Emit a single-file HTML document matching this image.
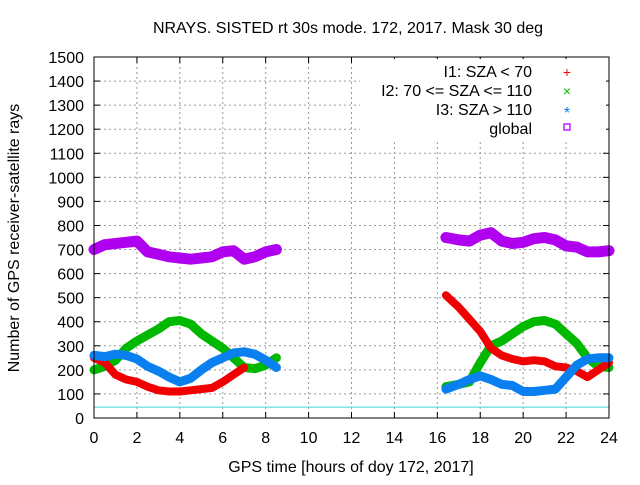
<!DOCTYPE html>
<html><head><meta charset="utf-8"><style>
body{margin:0;background:#fff}
svg{font-family:"Liberation Sans",sans-serif;font-size:16px}
</style></head><body>
<svg id="c" width="640" height="480" xmlns="http://www.w3.org/2000/svg">
<text x="348" y="33" text-anchor="middle">NRAYS. SISTED rt 30s mode. 172, 2017. Mask 30 deg</text>
<text x="351" y="472" text-anchor="middle">GPS time [hours of doy 172, 2017]</text>
<text transform="translate(19,238) rotate(-90)" text-anchor="middle">Number of GPS receiver-satellite rays</text>
<g id="grid"></g><g id="ticks"></g><g id="series"></g>
<rect x="94" y="57" width="515" height="361" fill="none" stroke="#000"/>
<g id="legend">
<rect x="360" y="59" width="246" height="82" fill="#fff"/>
<text x="532" y="77" text-anchor="end">I1: SZA &lt; 70</text>
<text x="567" y="77" fill="#f00" text-anchor="middle" font-size="14">+</text>
<text x="532" y="96" text-anchor="end">I2: 70 &lt;= SZA &lt;= 110</text>
<text x="567" y="96" fill="#0b0" text-anchor="middle" font-size="14">×</text>
<text x="532" y="115" text-anchor="end">I3: SZA &gt; 110</text>
<text x="567" y="118" fill="#0a7ff0" text-anchor="middle" font-size="16">*</text>
<text x="532" y="134" text-anchor="end">global</text>
<rect x="564" y="124" width="6" height="6" fill="none" stroke="#b0f" stroke-width="1.3"/>
</g>
</svg>
<script>
const hours1=[0,0.5,1,1.5,2,2.5,3,3.5,4,4.5,5,5.5,6,6.5,7,7.5,8,8.5];
const hours2=[16.4,17,17.5,18,18.5,19,19.5,20,20.5,21,21.5,22,22.5,23,23.5,24];
const global1=[700,720,725,730,735,690,680,670,665,660,665,670,690,695,660,670,690,700];
const global2=[750,740,735,760,770,735,725,730,745,750,740,715,710,690,690,695];
const i1a=[250,230,180,160,150,130,115,110,110,115,120,125,150,180,210];
const i1b=[510,460,410,360,290,260,245,235,240,235,215,210,195,170,200,230];
const i2a=[200,215,240,290,320,345,370,400,405,390,350,320,290,250,210,205,220,250];
const i2b=[130,140,150,230,300,320,350,380,400,405,390,350,310,250,215,210];
const i3a=[260,255,265,260,245,215,195,170,150,165,200,230,250,270,275,265,240,210];
const i3b=[120,140,160,175,160,140,135,110,110,115,120,170,220,245,250,250];
const xTicks=[0,2,4,6,8,10,12,14,16,18,20,22,24];
const yTicks=[0,100,200,300,400,500,600,700,800,900,1000,1100,1200,1300,1400,1500];
const baseline=45;
const X=h=>94+h*515/24, Y=v=>418-v*361/1500;
const NS="http://www.w3.org/2000/svg";
function mk(p,t,a){const e=document.createElementNS(NS,t);for(const k in a)e.setAttribute(k,a[k]);p.appendChild(e);return e;}
const grid=document.getElementById('grid'),ticks=document.getElementById('ticks'),ser=document.getElementById('series');
xTicks.forEach(t=>{
 if(t>0&&t<24){const l=mk(grid,'line',{x1:X(t),x2:X(t),y1:57,y2:418,stroke:'#999','stroke-dasharray':'2,3'});
 
 }
 mk(ticks,'line',{x1:X(t),x2:X(t),y1:418,y2:412,stroke:'#000'});
 mk(ticks,'line',{x1:X(t),x2:X(t),y1:57,y2:63,stroke:'#000'});
 const tx=mk(ticks,'text',{x:X(t),y:443,'text-anchor':'middle'});tx.textContent=t;
 
 
});
yTicks.forEach(t=>{
 if(t>0&&t<1500){const l=mk(grid,'line',{x1:94,x2:609,y1:Y(t),y2:Y(t),stroke:'#999','stroke-dasharray':'2,3'});
 
 }
 mk(ticks,'line',{x1:94,x2:100,y1:Y(t),y2:Y(t),stroke:'#000'});
 mk(ticks,'line',{x1:609,x2:603,y1:Y(t),y2:Y(t),stroke:'#000'});
 const tx=mk(ticks,'text',{x:84,y:Y(t)+6,'text-anchor':'end'});tx.textContent=t;
 
 
});
const bl=mk(ser,'line',{x1:94,x2:609,y1:Y(baseline),y2:Y(baseline),stroke:'#3cd6d6'});


function line(hs,vs,col,name,w){
 const pts=vs.map((v,i)=>X(hs[i]).toFixed(1)+','+Y(v).toFixed(1)).join(' ');
 const p=mk(ser,'polyline',{points:pts,fill:'none',stroke:col,'stroke-width':w,'stroke-linejoin':'round','stroke-linecap':'round'});
 
 
}
line(hours1,global1,'#b000f0','global-series-a',11);
line(hours2,global2,'#b000f0','global-series-b',11);
line(hours1,i2a,'#00b800','i2-series-a',9);
line(hours2,i2b,'#00b800','i2-series-b',9);
line(hours1.slice(0,i1a.length),i1a,'#f00000','i1-series-a',8);
line(hours2,i1b,'#f00000','i1-series-b',8);
line(hours1,i3a,'#0a80f0','i3-series-a',9);
line(hours2,i3b,'#0a80f0','i3-series-b',9);
</script>
</body></html>
